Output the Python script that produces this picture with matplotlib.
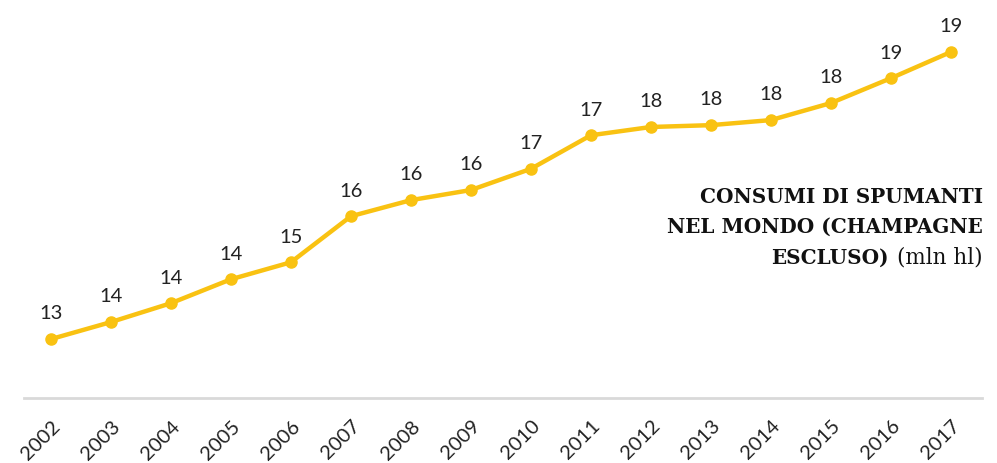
import matplotlib
matplotlib.use("Agg")
import matplotlib.pyplot as plt

# dati (mln hl)
anni = [2002, 2003, 2004, 2005, 2006, 2007, 2008, 2009,
        2010, 2011, 2012, 2013, 2014, 2015, 2016, 2017]
consumi = [13.0, 13.37, 13.78, 14.30, 14.67, 15.67, 16.02, 16.24,
           16.70, 17.43, 17.61, 17.65, 17.76, 18.13, 18.67, 19.24]
etichette = ["13", "14", "14", "14", "15", "16", "16", "16",
             "17", "17", "18", "18", "18", "18", "19", "19"]

giallo = "#F9C212"

fig = plt.figure(figsize=(9.97, 4.63), dpi=100)
ax = fig.add_axes([0.024, 0.1404, 0.961, 0.8596])

ax.plot(anni, consumi, color=giallo, lw=3.2, marker="o", ms=8,
        solid_capstyle="round", zorder=3)

for a, v, t in zip(anni, consumi, etichette):
    ax.annotate(t, (a, v), xytext=(0, 12), textcoords="offset points",
                ha="center", va="bottom", fontsize=14.5, family="Lato",
                color="#222222")

ax.set_xlim(2001.55, 2017.52)
ax.set_ylim(11.72, 20.37)

for s in ["top", "right", "left"]:
    ax.spines[s].set_visible(False)
ax.spines["bottom"].set_color("#d9d9d9")
ax.spines["bottom"].set_linewidth(2)

ax.set_yticks([])
ax.set_xticks(anni)
ax.set_xticklabels([str(a) for a in anni], rotation=45, ha="right",
                   rotation_mode="anchor", fontsize=14.5, family="Lato",
                   color="#222222")
ax.tick_params(axis="x", length=0, pad=14)

# titolo a destra
tit = dict(fontsize=14.4, family="DejaVu Serif", fontweight="bold",
           color="#111111", ha="right", va="center")
fig.text(0.986, 0.575, "CONSUMI DI SPUMANTI", **tit)
fig.text(0.986, 0.510, "NEL MONDO (CHAMPAGNE", **tit)
t2 = fig.text(0.986, 0.443, "(mln hl)", fontsize=15.5, family="DejaVu Serif",
              color="#111111", ha="right", va="center")
ax.annotate("ESCLUSO)", xy=(0, 0.5), xycoords=t2, xytext=(-6, 0),
            textcoords="offset points", ha="right", va="center",
            fontsize=14.4, family="DejaVu Serif", fontweight="bold",
            color="#111111")

fig.savefig("out.png", dpi=100)
